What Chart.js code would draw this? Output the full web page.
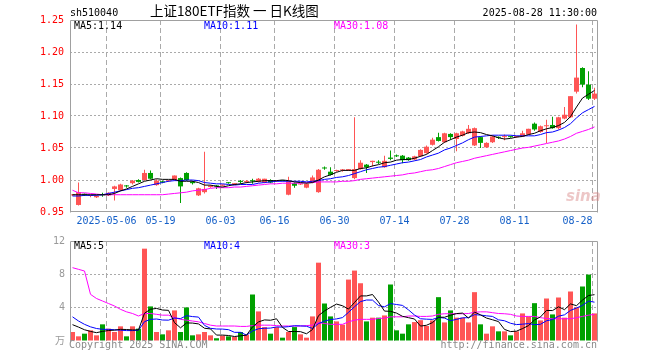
<!DOCTYPE html>
<html><head><meta charset="utf-8">
<script src="https://cdn.jsdelivr.net/npm/chart.js@4/dist/chart.umd.min.js"></script>
<style>
html,body{margin:0;padding:0;background:#fff;width:660px;height:360px;overflow:hidden}
#wrap{position:relative;width:660px;height:360px}
canvas{position:absolute;left:0}
#c1{top:0}
#c2{top:230px}
.t{position:absolute;font-family:'DejaVu Sans Mono',monospace;font-size:10px;line-height:12px;white-space:pre;color:#000}
</style></head><body>
<div id="wrap">
<canvas id="c1" width="660" height="230"></canvas>
<canvas id="c2" width="660" height="130"></canvas>
<div class="t" style="left:70px;top:7px">sh510040</div>
<div class="t" style="left:150px;top:2px;font-family:'Noto Sans CJK SC';font-size:13.5px;line-height:16px">上证180ETF指数 一 日K线图</div>
<div class="t" style="right:63px;top:7px">2025-08-28 11:30:00</div>
<div class="t" style="left:74px;top:20px">MA5:1.14</div>
<div class="t" style="left:204px;top:20px;color:#0000ff">MA10:1.11</div>
<div class="t" style="left:334px;top:20px;color:#ff00ff">MA30:1.08</div>
<div class="t" style="left:74px;top:240px">MA5:5</div>
<div class="t" style="left:204px;top:240px;color:#0000ff">MA10:4</div>
<div class="t" style="left:334px;top:240px;color:#ff00ff">MA30:3</div>
<div class="t" style="left:69px;top:339px;color:#8a8a8a">Copyright 2025 SINA.COM</div>
<div class="t" style="right:63px;top:339px;color:#8a8a8a">http://finance.sina.com.cn</div>
<div class="t" style="left:566px;top:190px;font-family:'DejaVu Sans';font-size:15px;font-weight:bold;font-style:italic;color:rgba(215,130,130,0.45)">sina</div>
</div>
<script>
// ---- data (index 0 = 2025-04-23 ... index 87 = 2025-08-28) ----
const tickIdx  = [6, 15, 25, 34, 44, 54, 64, 74, 87];
const tickText = ['2025-05-06','05-19','06-03','06-16','06-30','07-14','07-28','08-11','08-28'];
const priceTicks = [0.95, 1.00, 1.05, 1.10, 1.15, 1.20, 1.25];
const volTicks = [0, 4, 8, 12];

const open = [0.976,0.961,0.978,0.975,0.973,0.978,0.976,0.986,0.984,0.991,
0.995,1.000,1.000,1.011,0.992,0.998,0.998,1.000,1.003,1.011,
0.997,0.976,0.981,0.989,0.991,0.991,0.996,0.993,0.998,0.997,
0.999,0.997,0.996,1.000,0.998,0.9995,0.977,0.995,0.993,0.988,
0.996,0.981,1.019,1.013,1.014,1.015,1.015,1.003,1.017,1.024,
1.028,1.028,1.020,1.035,1.038,1.038,1.035,1.032,1.037,1.042,
1.055,1.067,1.059,1.072,1.064,1.069,1.073,1.054,1.067,1.051,
1.059,1.067,1.067,1.068,1.067,1.068,1.071,1.088,1.075,1.084,
1.086,1.081,1.096,1.098,1.138,1.175,1.149,1.127];
const high = [0.978,0.996,0.979,0.977,0.976,0.980,0.981,0.991,0.994,0.992,
1.000,1.001,1.016,1.015,1.001,0.999,1.000,1.007,1.004,1.012,
0.999,0.988,1.044,0.992,0.992,0.993,0.997,0.995,1.000,1.000,
1.002,1.003,1.002,1.001,1.000,1.000,1.005,0.996,0.995,0.995,
1.007,1.017,1.021,1.020,1.016,1.017,1.017,1.098,1.031,1.025,
1.030,1.031,1.038,1.046,1.040,1.039,1.036,1.038,1.048,1.054,
1.066,1.074,1.074,1.073,1.074,1.077,1.086,1.082,1.068,1.059,
1.069,1.068,1.071,1.069,1.069,1.077,1.080,1.090,1.085,1.094,
1.099,1.099,1.114,1.131,1.243,1.176,1.170,1.144];
const low = [0.975,0.960,0.975,0.973,0.972,0.974,0.975,0.968,0.983,0.988,
0.993,0.996,0.999,1.001,0.991,0.995,0.997,0.999,0.964,0.999,
0.993,0.975,0.979,0.988,0.986,0.990,0.994,0.992,0.994,0.995,
0.994,0.996,0.995,0.995,0.997,0.998,0.976,0.988,0.992,0.987,
0.995,0.980,1.016,1.007,1.013,1.013,1.014,1.001,1.016,1.011,
1.021,1.025,1.019,1.031,1.036,1.026,1.030,1.031,1.036,1.041,
1.054,1.060,1.058,1.063,1.045,1.068,1.072,1.053,1.050,1.050,
1.058,1.064,1.062,1.066,1.066,1.067,1.070,1.077,1.074,1.058,
1.080,1.079,1.095,1.097,1.135,1.145,1.125,1.125];
const close = [0.977,0.981,0.977,0.976,0.975,0.976,0.980,0.990,0.993,0.990,
0.999,0.997,1.011,1.002,0.999,0.996,0.999,1.007,0.990,1.000,
0.995,0.987,0.986,0.991,0.990,0.993,0.995,0.995,0.997,0.998,
0.998,1.002,1.002,0.996,0.999,0.9985,0.998,0.991,0.994,0.994,
1.004,1.016,1.018,1.008,1.015,1.016,1.017,1.017,1.027,1.020,
1.030,1.027,1.030,1.033,1.037,1.031,1.031,1.037,1.047,1.052,
1.063,1.061,1.073,1.067,1.073,1.076,1.080,1.081,1.058,1.058,
1.068,1.066,1.068,1.067,1.068,1.073,1.080,1.079,1.084,1.085,
1.081,1.098,1.102,1.131,1.160,1.149,1.127,1.135];
const ma5 = [0.977,0.977,0.977,0.977,0.977,0.977,0.977,0.979,0.983,0.986,
0.990,0.994,0.998,1.000,1.002,1.001,1.001,1.001,0.998,0.998,
0.998,0.996,0.992,0.992,0.990,0.989,0.991,0.993,0.994,0.996,
0.997,0.998,0.999,0.999,0.999,1.000,0.999,0.997,0.996,0.995,
0.996,1.000,1.005,1.008,1.012,1.015,1.015,1.015,1.018,1.019,
1.022,1.024,1.027,1.028,1.031,1.032,1.032,1.034,1.037,1.040,
1.046,1.052,1.059,1.063,1.067,1.070,1.074,1.075,1.074,1.071,
1.069,1.066,1.064,1.065,1.067,1.068,1.071,1.073,1.077,1.080,
1.082,1.085,1.090,1.099,1.114,1.128,1.134,1.140];
const ma10 = [0.975,0.975,0.976,0.976,0.976,0.977,0.979,0.981,0.983,0.985,
0.987,0.988,0.990,0.992,0.994,0.996,0.998,0.999,0.999,1.000,
1.000,0.999,0.996,0.995,0.994,0.994,0.993,0.992,0.993,0.993,
0.993,0.995,0.996,0.997,0.998,0.998,0.998,0.998,0.998,0.997,
0.998,0.999,1.001,1.002,1.004,1.005,1.007,1.010,1.013,1.016,
1.018,1.020,1.021,1.023,1.025,1.027,1.028,1.030,1.032,1.036,
1.039,1.042,1.047,1.050,1.054,1.058,1.063,1.067,1.068,1.069,
1.070,1.070,1.070,1.070,1.069,1.069,1.069,1.069,1.071,1.074,
1.075,1.078,1.082,1.088,1.097,1.105,1.110,1.115];
const ma30 = [0.984,0.980,0.980,0.979,0.978,0.977,0.977,0.977,0.977,0.977,
0.977,0.977,0.977,0.977,0.977,0.977,0.978,0.979,0.980,0.981,
0.983,0.984,0.985,0.987,0.988,0.988,0.988,0.989,0.989,0.990,
0.991,0.992,0.993,0.994,0.994,0.995,0.995,0.995,0.995,0.996,
0.996,0.997,0.997,0.997,0.997,0.998,0.998,0.999,1.001,1.002,
1.003,1.004,1.005,1.006,1.007,1.008,1.010,1.011,1.013,1.015,
1.016,1.018,1.021,1.024,1.027,1.029,1.031,1.034,1.036,1.038,
1.040,1.042,1.044,1.046,1.048,1.050,1.051,1.053,1.055,1.057,
1.059,1.061,1.064,1.068,1.073,1.076,1.079,1.083];
const vol = [1.08,0.56,0.88,1.28,0.68,2.00,1.48,1.08,1.76,0.56,
1.76,1.48,11.08,4.15,1.08,0.80,1.28,3.67,1.08,4.03,
0.68,0.80,1.08,0.68,0.33,0.64,0.56,0.48,1.08,0.76,
5.58,3.55,1.67,0.88,1.67,0.40,1.08,1.67,0.80,0.40,
2.95,9.40,4.50,2.95,2.35,1.96,7.37,8.45,6.93,2.35,
2.80,2.80,3.07,6.78,1.28,0.88,2.00,2.27,2.50,1.80,
2.47,5.26,2.23,3.67,2.80,2.80,2.23,5.86,2.00,0.88,
1.76,1.16,1.16,0.68,1.16,3.31,2.95,4.54,2.47,5.10,
3.19,5.22,2.80,5.94,4.03,6.54,7.97,3.31];
const vma5 = [1.96,1.67,1.35,1.15,1.00,1.15,1.26,1.30,1.40,1.38,
1.33,1.33,3.33,3.81,3.91,3.72,3.68,2.20,1.58,2.17,
2.15,2.05,1.53,1.45,0.71,0.71,0.66,0.54,0.62,0.70,
1.69,2.29,2.53,2.49,2.67,1.63,1.14,1.14,1.12,0.87,
1.38,3.04,3.61,4.04,4.43,4.23,3.83,4.62,5.41,5.41,
5.58,4.67,3.59,3.56,3.35,2.96,2.80,2.64,1.79,1.89,
2.21,2.86,2.85,3.09,3.29,3.35,2.75,3.47,3.14,2.75,
2.55,2.33,1.39,1.13,1.18,1.49,1.85,2.53,2.89,3.67,
3.65,4.10,3.76,4.45,4.24,4.91,5.46,5.56];
const vma10 = [2.90,2.40,2.00,1.70,1.50,1.40,1.40,1.35,1.30,1.25,
1.25,1.30,2.32,2.60,2.64,2.52,2.50,2.76,2.69,3.04,
2.93,2.87,1.87,1.52,1.44,1.43,1.36,1.04,1.04,0.71,
1.20,1.47,1.53,1.55,1.69,1.66,1.72,1.83,1.81,1.77,
1.51,2.09,2.38,2.58,2.65,2.81,3.44,4.11,4.73,4.92,
4.91,4.25,4.10,4.49,4.38,4.27,3.73,3.12,2.67,2.62,
2.59,2.83,2.75,2.44,2.59,2.78,2.80,3.16,3.11,3.02,
2.95,2.54,2.43,2.13,1.97,2.02,2.09,1.96,2.01,2.43,
2.57,2.98,3.14,3.67,3.96,4.28,4.78,4.66];
const vma30 = [8.80,8.60,8.40,5.60,5.10,4.80,4.50,4.20,3.80,3.50,
3.30,3.00,3.30,3.30,3.20,3.10,3.10,2.80,2.60,2.50,
2.40,2.30,2.10,1.90,1.80,1.80,1.80,1.80,1.75,1.75,
1.85,1.90,1.90,1.90,1.85,1.80,1.80,1.80,1.80,1.85,
1.90,2.20,2.10,2.00,2.00,2.00,2.30,2.50,2.60,2.60,
2.60,2.70,2.75,2.90,2.90,2.90,3.00,3.00,2.95,2.95,
3.00,3.20,3.27,3.27,3.27,3.27,3.30,3.45,3.50,3.50,
3.40,3.30,3.27,3.20,3.00,2.95,2.95,2.95,2.80,2.70,
2.67,2.67,2.67,2.67,2.80,2.95,3.10,3.20];

// ---- styling ----
const UP = '#ff5555', DOWN = '#00a000', GRID = '#aaaaaa', FRAME = '#a0a0a0';
const MONO = "'DejaVu Sans Mono', 'Noto Sans CJK SC', monospace";
const idx = open.map((_, k) => k);
const dirColor = idx.map(k => close[k] >= open[k] ? UP : DOWN);
const pts = arr => arr.map((v, k) => ({x: k, y: v}));
const X_MIN = -2.5 / 6, X_MAX = (idx.length - 1) + 2.5 / 6;

function frame(sides) {
  return {
    id: 'frame',
    afterDraw(chart) {
      const {ctx, chartArea: a} = chart;
      const L = a.left + 0.5, R = a.right + 0.5, T = a.top + 0.5, B = a.bottom - 0.5;
      ctx.save();
      ctx.strokeStyle = FRAME; ctx.lineWidth = 1; ctx.setLineDash([]);
      ctx.beginPath();
      if (sides.includes('t')) { ctx.moveTo(L, T); ctx.lineTo(R, T); }
      if (sides.includes('b')) { ctx.moveTo(L, B); ctx.lineTo(R, B); }
      if (sides.includes('l')) { ctx.moveTo(L, T); ctx.lineTo(L, B + 1); }
      if (sides.includes('r')) { ctx.moveTo(R, T); ctx.lineTo(R, B + 1); }
      ctx.stroke();
      ctx.restore();
    }
  };
}

const lineDs = (data, color) => ({
  type: 'line', data: pts(data), borderColor: color, borderWidth: 1,
  pointRadius: 0, tension: 0, order: 0
});

function xScale(showLabels) {
  return {
    type: 'linear', min: X_MIN, max: X_MAX, bounds: 'data', offset: false,
    afterBuildTicks: ax => { ax.ticks = tickIdx.map(k => ({value: k - 1/3})); },
    afterFit: ax => { ax.height = showLabels ? 18 : 0; },
    ticks: {
      display: showLabels, autoSkip: false, maxRotation: 0, minRotation: 0, padding: 3,
      color: '#1560c8', font: {family: MONO, size: 10},
      callback: (v, i) => i === tickText.length - 1 ? tickText[i] + '     ' : tickText[i]
    },
    grid: {color: GRID, lineWidth: 1, drawTicks: false, offset: false},
    border: {display: false, dash: [5, 3]}
  };
}

Chart.defaults.animation = false;

new Chart(document.getElementById('c1'), {
  type: 'line',
  data: {
    datasets: [
      lineDs(ma5, '#000000'),
      lineDs(ma10, '#0000ff'),
      lineDs(ma30, '#ff00ff'),
      { type: 'bar', data: idx.map(k => ({x: k, y: [open[k], close[k]]})),
        backgroundColor: dirColor, barThickness: 5, minBarLength: 1,
        grouped: false, inflateAmount: 0, order: 1 },
      { type: 'bar', data: idx.map(k => ({x: k, y: [low[k], high[k]]})),
        backgroundColor: dirColor, barThickness: 1, minBarLength: 1,
        grouped: false, inflateAmount: 0, order: 2 }
    ]
  },
  options: {
    responsive: false, animation: false, events: [],
    layout: {padding: {left: 0, top: 20, right: 63, bottom: 0}},
    plugins: {legend: {display: false}, tooltip: {enabled: false}},
    scales: {
      x: xScale(true),
      y: {
        type: 'linear', min: 0.95, max: 1.25,
        afterBuildTicks: ax => { ax.ticks = priceTicks.map(v => ({value: v})); },
        afterFit: ax => { ax.width = 70; },
        ticks: {color: '#ff0000', font: {family: MONO, size: 10}, padding: 6,
                callback: v => Number(v).toFixed(2)},
        grid: {drawTicks: false, lineWidth: 1,
               color: c => (c.index === 0 || c.index === priceTicks.length - 1) ? 'rgba(0,0,0,0)' : GRID},
        border: {display: false, dash: [2, 2]}
      }
    }
  },
  plugins: [frame('tblr')]
});

new Chart(document.getElementById('c2'), {
  type: 'line',
  data: {
    datasets: [
      lineDs(vma5, '#000000'),
      lineDs(vma10, '#0000ff'),
      lineDs(vma30, '#ff00ff'),
      { type: 'bar', data: idx.map(k => ({x: k, y: vol[k]})),
        backgroundColor: dirColor, barThickness: 5, grouped: false,
        inflateAmount: 0, order: 1 }
    ]
  },
  options: {
    responsive: false, animation: false, events: [],
    layout: {padding: {left: 0, top: 10, right: 63, bottom: 19}},
    plugins: {legend: {display: false}, tooltip: {enabled: false}},
    scales: {
      x: xScale(false),
      y: {
        type: 'linear', min: 0, max: 12,
        afterBuildTicks: ax => { ax.ticks = volTicks.map(v => ({value: v})); },
        afterFit: ax => { ax.width = 70; },
        ticks: {color: '#999999', font: {family: MONO, size: 10}, padding: 5,
                callback: v => v === 0 ? '万' : String(v)},
        grid: {drawTicks: false, lineWidth: 1,
               color: c => (c.index === 0 || c.index === volTicks.length - 1) ? 'rgba(0,0,0,0)' : GRID},
        border: {display: false, dash: [2, 2]}
      }
    }
  },
  plugins: [frame('tlr')]
});
</script>
</body></html>
